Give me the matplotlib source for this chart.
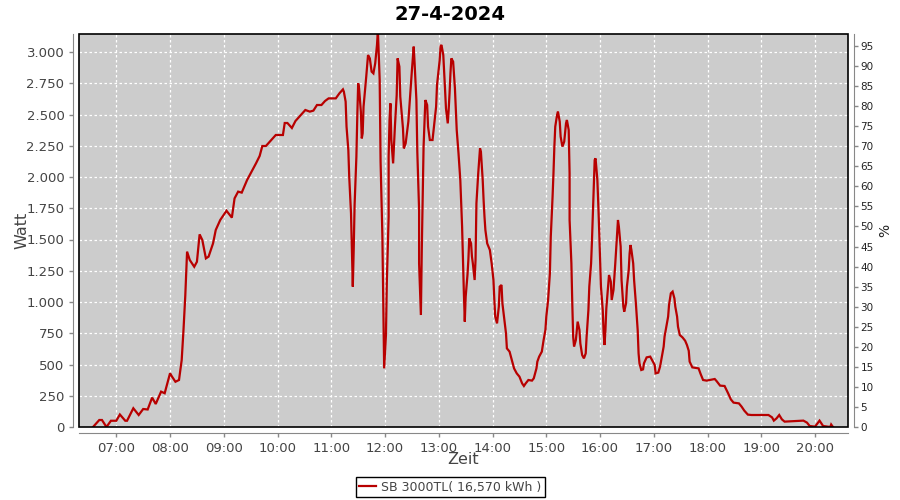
import matplotlib
matplotlib.use("Agg")
import matplotlib.pyplot as plt
from matplotlib.patches import Rectangle
from matplotlib.ticker import FuncFormatter, MultipleLocator

# Power readings of the inverter
times = [
    "06:34", "06:41", "06:44", "06:49", "06:54", "07:00", "07:04", "07:10", "07:12", "07:19",
    "07:25", "07:30", "07:35", "07:40", "07:44", "07:50", "07:54", "08:00", "08:02", "08:06",
    "08:10", "08:13", "08:15", "08:17", "08:19", "08:22", "08:27", "08:30", "08:33", "08:36",
    "08:40", "08:43", "08:48", "08:51", "08:56", "09:03", "09:09", "09:12", "09:16", "09:20",
    "09:26", "09:31", "09:36", "09:40", "09:43", "09:47", "09:52", "09:58", "10:06", "10:08",
    "10:11", "10:16", "10:20", "10:24", "10:31", "10:36", "10:40", "10:44", "10:49", "10:53",
    "10:57", "11:05", "11:09", "11:13", "11:14", "11:16", "11:17", "11:19", "11:20", "11:22",
    "11:23", "11:24", "11:25", "11:26", "11:28", "11:29", "11:30", "11:31", "11:33", "11:34",
    "11:35", "11:36", "11:39", "11:41", "11:43", "11:45", "11:47", "11:49", "11:51", "11:52",
    "11:54", "11:55", "11:57", "11:58", "11:59", "12:01", "12:02", "12:04", "12:04", "12:05",
    "12:06", "12:07", "12:09", "12:11", "12:13", "12:14", "12:16", "12:17", "12:20", "12:21",
    "12:23", "12:26", "12:28", "12:30", "12:32", "12:33", "12:35", "12:36", "12:38", "12:38",
    "12:40", "12:41", "12:42", "12:43", "12:45", "12:47", "12:48", "12:50", "12:53", "12:55",
    "12:57", "12:58", "13:01", "13:02", "13:03", "13:05", "13:06", "13:07", "13:08", "13:10",
    "13:11", "13:12", "13:13", "13:14", "13:16", "13:18", "13:20", "13:22", "13:24", "13:26",
    "13:27", "13:28", "13:29", "13:30", "13:32", "13:33", "13:34", "13:36", "13:37", "13:38",
    "13:40", "13:41", "13:42", "13:44", "13:46", "13:47", "13:49", "13:50", "13:51", "13:52",
    "13:54", "13:57", "13:59", "14:01", "14:02", "14:03", "14:05", "14:07", "14:08", "14:10",
    "14:11", "14:13", "14:15", "14:16", "14:19", "14:21", "14:24", "14:27", "14:30", "14:33",
    "14:35", "14:37", "14:40", "14:44", "14:46", "14:49", "14:50", "14:52", "14:55", "14:57",
    "14:59", "15:00", "15:02", "15:04", "15:05", "15:07", "15:08", "15:09", "15:10", "15:12",
    "15:13", "15:15", "15:16", "15:18", "15:20", "15:22", "15:23", "15:25", "15:26", "15:26",
    "15:28", "15:29", "15:30", "15:31", "15:33", "15:35", "15:37", "15:38", "15:40", "15:42",
    "15:44", "15:45", "15:47", "15:48", "15:50", "15:51", "15:52", "15:53", "15:54", "15:55",
    "15:57", "15:58", "15:59", "16:00", "16:01", "16:03", "16:04", "16:05", "16:06", "16:07",
    "16:09", "16:10", "16:12", "16:13", "16:15", "16:17", "16:19", "16:20", "16:21", "16:23",
    "16:24", "16:26", "16:27", "16:29", "16:30", "16:32", "16:33", "16:34", "16:35", "16:37",
    "16:38", "16:40", "16:42", "16:43", "16:44", "16:46", "16:48", "16:49", "16:52", "16:56",
    "16:58", "17:01", "17:02", "17:05", "17:07", "17:09", "17:11", "17:12", "17:14", "17:16",
    "17:17", "17:19", "17:21", "17:23", "17:24", "17:26", "17:27", "17:29", "17:32", "17:35",
    "17:37", "17:39", "17:40", "17:43", "17:50", "17:52", "17:55", "17:59", "18:08", "18:10",
    "18:14", "18:19", "18:23", "18:26", "18:29", "18:35", "18:38", "18:41", "18:45", "18:49",
    "19:08", "19:12", "19:14", "19:17", "19:20", "19:23", "19:26", "19:47", "19:51", "19:54",
    "20:00", "20:05", "20:09", "20:17", "20:18", "20:20",
]
watts = [
    0, 56, 56, 0, 50, 50, 100, 50, 50, 150,
    96, 144, 140, 235, 184, 283, 270, 430, 405, 362,
    376, 536, 776, 1050, 1403, 1336, 1282, 1322, 1541, 1496,
    1349, 1363, 1469, 1576, 1656, 1730, 1675, 1829, 1883, 1875,
    1976, 2043, 2110, 2168, 2248, 2248, 2288, 2336, 2336, 2432,
    2432, 2392, 2448, 2480, 2536, 2523, 2531, 2576, 2576, 2608,
    2629, 2629, 2669, 2701, 2683, 2603, 2403, 2216, 2003, 1709,
    1429, 1123, 1416, 1776, 2163, 2483, 2749, 2709, 2523, 2309,
    2349, 2563, 2803, 2976, 2949, 2843, 2829, 2909, 3056, 3170,
    2776, 2123, 1536, 989, 469, 736, 1163, 1683, 2163, 2456,
    2589, 2296, 2109, 2403, 2656, 2949, 2883, 2643, 2389, 2229,
    2269, 2443, 2656, 2856, 3043, 2909, 2616, 2203, 1736, 1309,
    896, 1416, 1856, 2243, 2616, 2576, 2403, 2296, 2296, 2429,
    2563, 2736, 2936, 3048, 3056, 2976, 2843, 2696, 2549, 2429,
    2536, 2669, 2829, 2949, 2923, 2709, 2376, 2189, 1976, 1603,
    1336, 1069, 843, 1043, 1216, 1336, 1509, 1469, 1363, 1309,
    1176, 1336, 1789, 2029, 2229, 2203, 1976, 1816, 1683, 1576,
    1469, 1416, 1309, 1176, 1016, 883, 829, 963, 1123, 1136,
    989, 869, 749, 629, 603, 549, 469, 429, 403, 349,
    328, 349, 376, 371, 389, 469, 523, 563, 603, 696,
    776, 883, 1016, 1229, 1523, 1843, 2029, 2243, 2403, 2496,
    2523, 2443, 2323, 2243, 2283, 2429, 2456, 2376, 2029, 1656,
    1309, 989, 722, 643, 696, 843, 776, 669, 576, 549,
    589, 722, 936, 1123, 1309, 1496, 1709, 1896, 2136, 2149,
    1976, 1789, 1576, 1336, 1123, 936, 749, 656, 776, 949,
    1123, 1216, 1163, 1016, 1096, 1309, 1549, 1656, 1603, 1443,
    1176, 963, 923, 989, 1123, 1256, 1389, 1456, 1416, 1309,
    1176, 989, 776, 589, 509, 456, 461, 509, 557, 563,
    536, 496, 429, 435, 483, 563, 643, 723, 803, 883,
    976, 1069, 1083, 1029, 963, 883, 803, 736, 717, 690,
    656, 610, 523, 477, 469, 429, 376, 371, 384, 368,
    331, 328, 269, 221, 195, 189, 163, 131, 99, 96,
    96, 77, 51, 69, 96, 61, 43, 51, 35, 8,
    3, 51, 8, 0, 20, 0,
]
hour_ticks = list(range(7, 21))
title = "27-4-2024"
series_label = "SB 3000TL( 16,570 kWh )"

LINE_COLOR = "#b80000"
TEXT_COLOR = "#444444"
AXIS_GRAY = "#888888"

hours = [int(t[:2]) + int(t[3:]) / 60 for t in times]

plt.rcParams["font.family"] = ["DejaVu Sans"]

fig = plt.figure(figsize=(9, 5), dpi=100)
ax = fig.add_axes([79 / 900, 1 - 427 / 500, (848 - 79) / 900, (427 - 34) / 500])
ax.set_facecolor("#cccccc")

line, = ax.plot(hours, watts, color=LINE_COLOR, linewidth=1.6, label=series_label,
                solid_joinstyle="miter", zorder=3)

ax.set_xlim(6.306, 20.613)
ax.set_ylim(0, 3144)
ax.set_xticks(hour_ticks)
ax.xaxis.set_major_formatter(FuncFormatter(lambda v, p: f"{int(round(v)):02d}:00"))
ax.yaxis.set_major_locator(MultipleLocator(250))
ax.yaxis.set_major_formatter(FuncFormatter(lambda v, p: f"{v:,.0f}".replace(",", ".")))

ax.grid(True, color="white", linestyle=(0, (2, 2)), linewidth=0.9)
ax.set_axisbelow(True)

for side in ["left", "bottom"]:
    ax.spines[side].set_position(("outward", 4))
    ax.spines[side].set_color(AXIS_GRAY)
ax.spines["top"].set_visible(False)
ax.spines["right"].set_visible(False)
ax.tick_params(axis="both", colors=AXIS_GRAY, labelcolor=TEXT_COLOR, labelsize=9.5,
               length=3, width=1)

ax.set_xlabel("Zeit", fontsize=11.5, color=TEXT_COLOR, labelpad=-2)
ax.set_ylabel("Watt", fontsize=11.5, color=TEXT_COLOR, labelpad=-2)

# right hand axis in percent
ax2 = ax.twinx()
ax2.set_ylim(0, 98)
ax2.yaxis.set_major_locator(MultipleLocator(5))
for side in ["left", "top", "bottom"]:
    ax2.spines[side].set_visible(False)
ax2.spines["right"].set_position(("outward", 4))
ax2.spines["right"].set_color(AXIS_GRAY)
ax2.tick_params(axis="y", colors=AXIS_GRAY, labelcolor="#222222", labelsize=7.5,
                length=3, width=1, pad=2)
ax2.set_ylabel("%", fontsize=10, color="#222222", labelpad=3)

# black plot outline
ax.add_patch(Rectangle((0, 0), 1, 1, transform=ax.transAxes, fill=False,
                       edgecolor="black", linewidth=1.2, clip_on=False, zorder=5))

fig.suptitle(title, x=0.5, y=1 - 14 / 500, va="center", fontsize=14, fontweight="bold",
             color="black")

leg = fig.legend(handles=[line], loc="center", bbox_to_anchor=(0.5, 1 - 487 / 500),
                 fancybox=False, edgecolor="black", framealpha=1, fontsize=9,
                 handlelength=1.4, handletextpad=0.4, borderpad=0.25)
leg.get_frame().set_linewidth(1)
for txt in leg.get_texts():
    txt.set_color(TEXT_COLOR)

fig.savefig("out.png", dpi=100)
